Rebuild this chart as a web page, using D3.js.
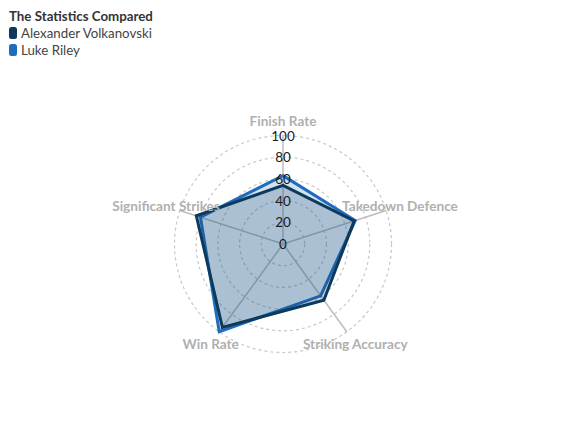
<!DOCTYPE html>
<html><head><meta charset="utf-8">
<script src="https://cdn.jsdelivr.net/npm/d3@7"></script>
<style>body{margin:0;background:#fff}svg{display:block}</style>
</head><body>
<svg id="c" width="566" height="429"></svg>
<script>
const categories = ["Finish Rate","Takedown Defence","Striking Accuracy","Win Rate","Significant Strikes"];
const volkanovski = [54, 69, 64, 95, 84];
const riley = [63, 70, 59, 100, 80];
const ticks = [0, 20, 40, 60, 80, 100];
const seriesNames = ["Alexander Volkanovski", "Luke Riley"];
const seriesColors = ["#0d3a5c", "#1f6cbd"];
const legendTitle = "The Statistics Compared";

const svg = d3.select("#c");
const font = "Lato, 'Source Sans Pro', sans-serif";
const cx = 283, cy = 244, R = 108.5;
const r = d3.scaleLinear().domain([0, 100]).range([0, R]);
const angle = d3.scalePoint().domain(categories).range([0, 2*Math.PI*(categories.length-1)/categories.length]);
const pt = (c, v) => { const a = angle(c) - Math.PI/2; return [cx + r(v)*Math.cos(a), cy + r(v)*Math.sin(a)]; };

const g = svg.append("g");
g.selectAll("circle.grid").data(ticks.filter(t => t > 0)).join("circle")
  .attr("cx", cx).attr("cy", cy).attr("r", d => r(d))
  .attr("fill", "none").attr("stroke", "#c8c8c8").attr("stroke-width", 1.2).attr("stroke-dasharray", "3,3");
g.selectAll("line.axis").data(categories).join("line")
  .attr("x1", cx).attr("y1", cy)
  .attr("x2", d => pt(d, 100)[0]).attr("y2", d => pt(d, 100)[1])
  .attr("stroke", "#bdbdbd").attr("stroke-width", 1.5);

const series = [riley, volkanovski];
const cols = [seriesColors[1], seriesColors[0]];
const line = d3.line().curve(d3.curveLinearClosed);
series.forEach((vals, i) => {
  g.append("path")
    .attr("d", line(categories.map((c, j) => pt(c, vals[j]))))
    .attr("fill", cols[i]).attr("fill-opacity", 0.2)
    .attr("stroke", cols[i]).attr("stroke-width", 3).attr("stroke-linejoin", "miter");
});

g.selectAll("text.cat").data(categories).join("text")
  .attr("x", d => pt(d, 100 * 123 / R)[0]).attr("y", d => pt(d, 100 * 123 / R)[1])
  .attr("text-anchor", "middle").attr("dominant-baseline", "central")
  .attr("font-family", font).attr("font-weight", "bold").attr("font-size", 13.6)
  .attr("fill", "#b0b0b0").text(d => d);

g.selectAll("text.tick").data(ticks).join("text")
  .attr("x", cx).attr("y", d => cy - r(d))
  .attr("text-anchor", "middle").attr("dominant-baseline", "central")
  .attr("font-family", font).attr("font-size", 13.5).attr("fill", "#1a1a1a").text(d => d);

const lg = svg.append("g");
lg.append("text").attr("x", 9).attr("y", 21).attr("font-family", font).attr("font-weight", "bold")
  .attr("font-size", 13.3).attr("fill", "#333").text(legendTitle);
seriesNames.forEach((n, i) => {
  lg.append("rect").attr("x", 9).attr("y", 27 + i*17).attr("width", 8).attr("height", 12).attr("rx", 2.5)
    .attr("fill", seriesColors[i]);
  lg.append("text").attr("x", 21).attr("y", 37.5 + i*17).attr("font-family", font)
    .attr("font-size", 13.3).attr("fill", "#444").text(n);
});
</script>
</body></html>
